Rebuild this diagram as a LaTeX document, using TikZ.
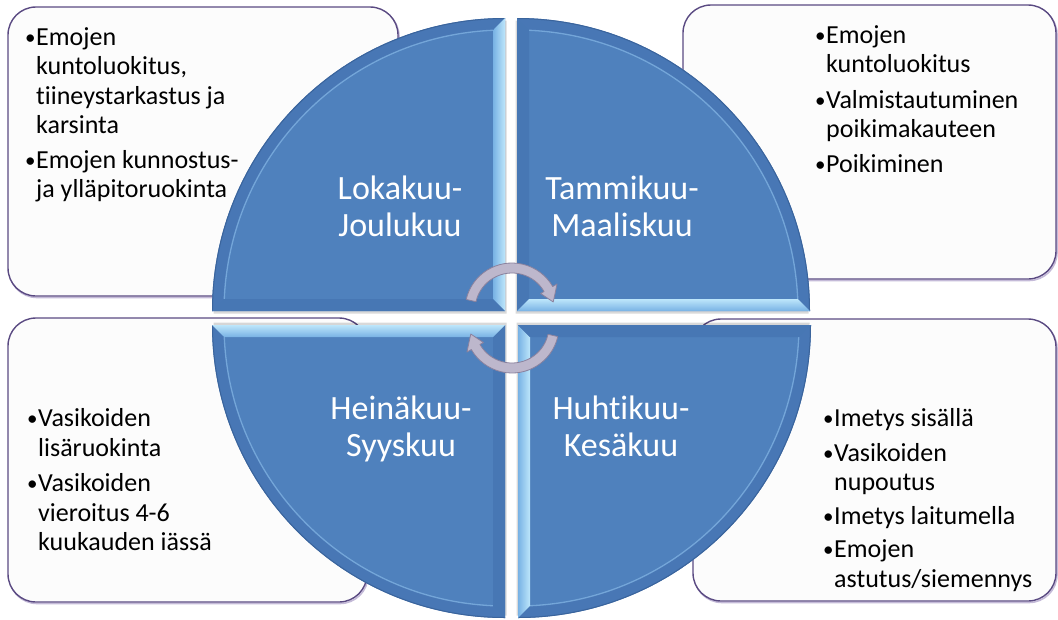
\documentclass[tikz,border=0pt]{standalone}
\usepackage{fontspec}
\setmainfont{Carlito}[Ligatures=NoCommon]
\usetikzlibrary{calc}
\definecolor{qmain}{HTML}{4F81BD}
\definecolor{qrim}{HTML}{4877B5}
\definecolor{qrimdark}{HTML}{3A649C}
\definecolor{qlight}{HTML}{9ACDF2}
\definecolor{qlightA}{HTML}{78B2E4}
\definecolor{qlightB}{HTML}{BDE6FB}
\definecolor{qmid}{HTML}{4777B4}
\definecolor{qhi}{HTML}{8FC2EE}
\definecolor{boxline}{HTML}{5A4A82}
\definecolor{boxshade}{HTML}{C4BAD8}
\definecolor{boxfill}{HTML}{FCFCFC}
\definecolor{arrfill}{HTML}{BDB7CC}
\definecolor{arrline}{HTML}{8A829E}
% #1 corner, #2 xscale, #3 yscale, #4 vertical strip style, #5 horizontal strip style
\newcommand\qsector[5]{%
\begin{scope}[shift={#1}, xscale=#2, yscale=#3]
 \fill[black, opacity=.15] (1.5,-2.5) -- ++(-293,0) arc[start angle=180,end angle=90,radius=293] -- cycle;
 \fill[qrim] (0,0) -- (-293,0) arc[start angle=180,end angle=90,radius=293] -- cycle;
 \draw[qrimdark, line width=1pt] (-292.5,0) arc[start angle=180,end angle=90,radius=292.5];
 \fill[qmain] (-12,12) -- (-280.74,12) arc[start angle=177.55,end angle=92.45,radius=281] -- cycle;
 \draw[qhi, line width=1.3pt, opacity=.6] (177.55:281) arc[start angle=177.55,end angle=92.45,radius=281];
 \path[#4] (0,0) -- (0,293) -- (-12,280.74) -- (-12,12) -- cycle;
 \path[#5] (0,0) -- (-293,0) -- (-280.74,12) -- (-12,12) -- cycle;
\end{scope}}
\newcommand\bi[1]{\strut\makebox[11pt][l]{\raisebox{1pt}{\fontsize{21}{21}\selectfont •}}#1}
\newcommand\ci[1]{\hspace*{11pt}#1}
\tikzset{
 vlight/.style={left color=qlightA, right color=qlightB},
 hlight/.style={bottom color=qlightA, top color=qlightB},
 stripmid/.style={fill=qmid},
 infobox/.style={draw=boxline, line width=1.4pt, fill=boxfill, rounded corners=28pt},
 infoshade/.style={draw=boxshade, line width=1.6pt, rounded corners=28pt},
 bultext/.style={anchor=north west, inner sep=0pt, align=left, text=black,
   font=\fontsize{26}{29.5}\selectfont},
 qlabel/.style={inner sep=0pt, align=center, text=white,
   font=\fontsize{34}{37}\selectfont},
 cyclearrow/.style={fill=arrfill, draw=arrline, line width=0.8pt, line join=round}
}
\begin{document}
\begin{tikzpicture}[x=1pt,y=1pt]
\useasboundingbox (0,0) rectangle (1058,-619);
% information boxes
\draw[infoshade] (9,-8.5) rectangle (399,-297.5);
\draw[infobox] (8,-7) rectangle (398,-296);
\draw[infoshade] (684,-6.5) rectangle (1057,-280.5);
\draw[infobox] (683,-5) rectangle (1056,-279);
\draw[infoshade] (9,-319.5) rectangle (368,-603.5);
\draw[infobox] (8,-318) rectangle (367,-602);
\draw[infoshade] (694,-320.5) rectangle (1057,-602.5);
\draw[infobox] (693,-319) rectangle (1056,-601);
% quadrants
\qsector{(505,-311)}{1}{1}{vlight}{stripmid}
\qsector{(517,-311)}{-1}{1}{stripmid}{hlight}
\qsector{(505,-325)}{1}{-1}{stripmid}{hlight}
\qsector{(518,-325)}{-1}{-1}{vlight}{stripmid}
% cycle arrows
\begin{scope}[shift={(512,-310)}]
 \path[cyclearrow] (167:47) arc[start angle=167,end angle=30,radius=47] -- (30:52) -- (11:42)
   -- (30:33) -- (30:37) arc[start angle=30,end angle=167,radius=37] -- cycle;
\end{scope}
\begin{scope}[shift={(512,-326)}, rotate=180]
 \path[cyclearrow] (167:47) arc[start angle=167,end angle=30,radius=47] -- (30:52) -- (11:42)
   -- (30:33) -- (30:37) arc[start angle=30,end angle=167,radius=37] -- cycle;
\end{scope}
% quadrant labels
\node[qlabel] (lq1) at (400,-211) {\strut Lokakuu-\\\strut Joulukuu};
\node[qlabel] (lq2) at (622,-211) {\strut Tammikuu-\\\strut Maaliskuu};
\node[qlabel] (lq3) at (401,-431) {\strut Heinäkuu-\\\strut Syyskuu};
\node[qlabel] (lq4) at (621,-431) {\strut Huhtikuu-\\\strut Kesäkuu};
% bullet texts
\node[bultext] (t1) at (25,-24.35) {\bi{Emojen}\\\ci{kuntoluokitus,}\\\ci{tiineystarkastus ja}\\\ci{karsinta}\\[5pt]\bi{Emojen kunnostus-}\\\ci{ja ylläpitoruokinta}};
\node[bultext] (t2) at (815,-22.35) {\bi{Emojen}\\\ci{kuntoluokitus}\\[6pt]\bi{Valmistautuminen}\\\ci{poikimakauteen}\\[5pt]\bi{Poikiminen}};
\node[bultext] (t3) at (27,-406) {\bi{Vasikoiden}\\\ci{lisäruokinta}\\[6pt]\bi{Vasikoiden}\\\ci{vieroitus 4-6}\\\ci{kuukauden iässä}};
\node[bultext] (t4) at (823,-406) {\bi{Imetys sisällä}\\[5pt]\bi{Vasikoiden}\\\ci{nupoutus}\\[4pt]\bi{Imetys laitumella}\\[4pt]\bi{Emojen}\\\ci{astutus/siemennys}};
\end{tikzpicture}
\end{document}
